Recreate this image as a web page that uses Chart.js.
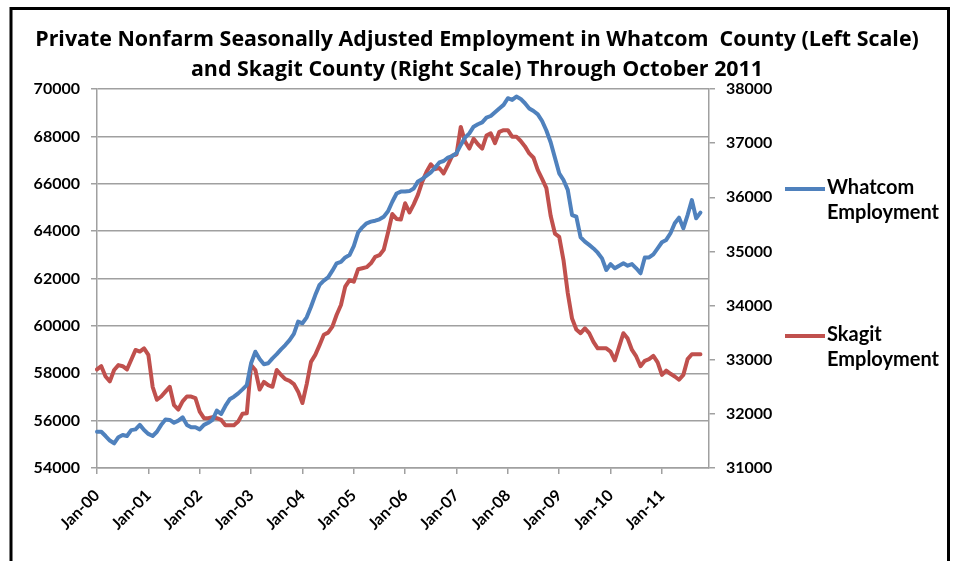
<!DOCTYPE html>
<html>
<head>
<meta charset="utf-8">
<title>Whatcom and Skagit employment</title>
<script src="https://cdn.jsdelivr.net/npm/chart.js@4.4.0/dist/chart.umd.min.js"></script>
<style>
  html, body { margin: 0; padding: 0; background: #ffffff; }
  canvas { display: block; }
</style>
</head>
<body>
<canvas id="emp-canvas" width="954" height="561"></canvas>
<script>
const month_names = ['Jan', 'Feb', 'Mar', 'Apr', 'May', 'Jun', 'Jul', 'Aug', 'Sep', 'Oct', 'Nov', 'Dec'];
const year_codes = ['00', '01', '02', '03', '04', '05', '06', '07', '08', '09', '10', '11'];
const month_labels = [];
for (const y of year_codes) {
    for (const m of month_names) {
        month_labels.push(m + '-' + y);
    }
}

// Whatcom, Jan-00 .. Oct-11 (left scale)
const whatcom = [
    55530, 55530, 55350, 55160, 55040, 55300, 55390, 55350, 55600, 55630, 55820, 55600,
    55440, 55350, 55530, 55820, 56050, 56030, 55910, 56000, 56140, 55820, 55720, 55720,
    55630, 55820, 55910, 56030, 56420, 56280, 56620, 56900, 57010, 57150, 57320, 57500,
    58420, 58910, 58600, 58380, 58420, 58630, 58810, 59010, 59190, 59400, 59660, 60180,
    60110, 60360, 60810, 61300, 61730, 61910, 62050, 62330, 62640, 62700, 62890, 62990,
    63370, 63940, 64160, 64330, 64400, 64440, 64500, 64610, 64840, 65240, 65590, 65670,
    65670, 65690, 65800, 66100, 66200, 66340, 66480, 66680, 66900, 66960, 67100, 67170,
    67290, 67640, 67950, 68130, 68410, 68510, 68590, 68790, 68860, 69020, 69180, 69330,
    69610, 69540, 69680, 69580, 69400, 69180, 69070, 68930, 68650, 68250, 67750, 67100,
    66440, 66160, 65740, 64680, 64610, 63740, 63560, 63420, 63270, 63090, 62850, 62360,
    62610, 62430, 62540, 62640, 62540, 62610, 62430, 62220, 62890, 62890, 63020, 63270,
    63530, 63630, 63910, 64330, 64570, 64120, 64680, 65310, 64540, 64780
];

// Skagit, Jan-00 .. Oct-11 (right scale)
const skagit = [
    32820, 32880, 32690, 32600, 32810, 32900, 32880, 32820, 33000, 33180, 33150, 33210,
    33090, 32500, 32260, 32320, 32410, 32500, 32160, 32080, 32230, 32320, 32320, 32290,
    32040, 31920, 31920, 31940, 31920, 31890, 31790, 31790, 31790, 31860, 32000, 32010,
    32900, 32810, 32450, 32590, 32530, 32500, 32810, 32720, 32640, 32610, 32550, 32410,
    32200, 32550, 32960, 33090, 33270, 33460, 33500, 33610, 33830, 34010, 34350, 34470,
    34440, 34670, 34690, 34710, 34780, 34900, 34930, 35030, 35350, 35690, 35600, 35590,
    35890, 35720, 35870, 36050, 36290, 36470, 36610, 36520, 36540, 36440, 36600, 36770,
    36790, 37300, 37030, 36900, 37080, 36980, 36900, 37140, 37180, 37000, 37210, 37240,
    37240, 37120, 37120, 37040, 36940, 36810, 36730, 36500, 36340, 36170, 35660, 35330,
    35270, 34840, 34230, 33760, 33560, 33490, 33580, 33490, 33330, 33210, 33210, 33210,
    33150, 32990, 33240, 33490, 33390, 33180, 33060, 32880, 32980, 33010, 33070, 32950,
    32720, 32800, 32740, 32690, 32630, 32720, 33010, 33100, 33100, 33100
];

const FONT = 'Lato';
const GRID = '#a0a0a0';

// black frame round the whole chart, white behind it
const frame_plugin = {
    id: 'frame',
    beforeDraw(chart) {
        const ctx = chart.ctx;
        ctx.save();
        ctx.fillStyle = '#ffffff';
        ctx.fillRect(0, 0, chart.width, chart.height);
        ctx.strokeStyle = '#000000';
        ctx.lineWidth = 3;
        ctx.strokeRect(11, 8.5, 937.5, 600);
        ctx.restore();
    }
};

// Excel-style legend: short line + label split on two lines
const legend_rows = [99, 246]; // offset of each entry below chart top
const side_legend = {
    id: 'sideLegend',
    afterDraw(chart) {
        const ctx = chart.ctx;
        const x0 = chart.chartArea.right + 76;
        ctx.save();
        ctx.font = 'bold 20px ' + FONT;
        ctx.fillStyle = '#000000';
        ctx.textBaseline = 'middle';
        chart.data.datasets.forEach((ds, i) => {
            const y = chart.chartArea.top + legend_rows[i];
            ctx.strokeStyle = ds.borderColor;
            ctx.lineWidth = 4;
            ctx.beginPath();
            ctx.moveTo(x0, y + 1);
            ctx.lineTo(x0 + 40, y + 1);
            ctx.stroke();
            const words = ds.label.split(' ');
            ctx.fillText(words[0], x0 + 42, y);
            ctx.fillText(words.slice(1).join(' '), x0 + 42, y + 25);
        });
        ctx.restore();
    }
};

const emp_config = {
    type: 'line',
    data: {
        labels: month_labels,
        datasets: [
            {
                label: 'Whatcom Employment',
                data: whatcom,
                yAxisID: 'yLeft',
                borderColor: '#4f81bd',
                borderWidth: 4,
                fill: false,
                tension: 0
            },
            {
                label: 'Skagit Employment',
                data: skagit,
                yAxisID: 'yRight',
                borderColor: '#c0504d',
                borderWidth: 4,
                fill: false,
                tension: 0
            }
        ]
    },
    options: {
        responsive: false,
        animation: false,
        devicePixelRatio: 1,
        layout: { padding: 0 },
        plugins: {
            legend: { display: false },
            tooltip: { enabled: false },
            title: {
                display: true,
                text: ['Private Nonfarm Seasonally Adjusted Employment in Whatcom  County (Left Scale)',
                       'and Skagit County (Right Scale) Through October 2011'],
                color: '#000000',
                font: { family: 'Open Sans', size: 21.4, weight: 'bold', lineHeight: 30 / 21.4 },
                padding: { top: 25, bottom: 4 }
            }
        },
        elements: {
            point: { radius: 0, hoverRadius: 0 },
            line: { borderCapStyle: 'round', borderJoinStyle: 'round' }
        },
        scales: {
            x: {
                type: 'category',
                offset: false,
                afterFit: (s) => { s.height = 93; },
                grid: {
                    drawOnChartArea: false,
                    drawTicks: true,
                    tickLength: 6,
                    color: GRID,
                    lineWidth: 1.5
                },
                border: { display: true, color: GRID, width: 1.5 },
                ticks: {
                    autoSkip: false,
                    minRotation: 45,
                    maxRotation: 45,
                    padding: 12,
                    color: '#000000',
                    font: { family: FONT, size: 16, weight: 'bold' },
                    callback: function (value, index) {
                        return index % 12 === 0 ? this.getLabelForValue(value) : null;
                    }
                }
            },
            yLeft: {
                type: 'linear',
                position: 'left',
                min: 54000,
                max: 70000,
                afterFit: (s) => { s.width = 97; },
                grid: {
                    color: GRID,
                    lineWidth: 1.5,
                    tickLength: 6
                },
                border: { display: true, color: GRID, width: 1.5 },
                ticks: {
                    stepSize: 2000,
                    padding: 11,
                    color: '#000000',
                    font: { family: FONT, size: 16, weight: 'bold' },
                    callback: (v) => String(v)
                }
            },
            yRight: {
                type: 'linear',
                position: 'right',
                min: 31000,
                max: 38000,
                afterFit: (s) => { s.width = 245; },
                grid: {
                    drawOnChartArea: false,
                    color: GRID,
                    lineWidth: 1.5,
                    tickLength: 6
                },
                border: { display: true, color: GRID, width: 1.5 },
                ticks: {
                    stepSize: 1000,
                    padding: 11,
                    color: '#000000',
                    font: { family: FONT, size: 16, weight: 'bold' },
                    callback: (v) => String(v)
                }
            }
        }
    },
    plugins: [frame_plugin, side_legend]
};

const emp_ctx = document.getElementById('emp-canvas');
const emp_chart = new Chart(emp_ctx, emp_config);
</script>
</body>
</html>
